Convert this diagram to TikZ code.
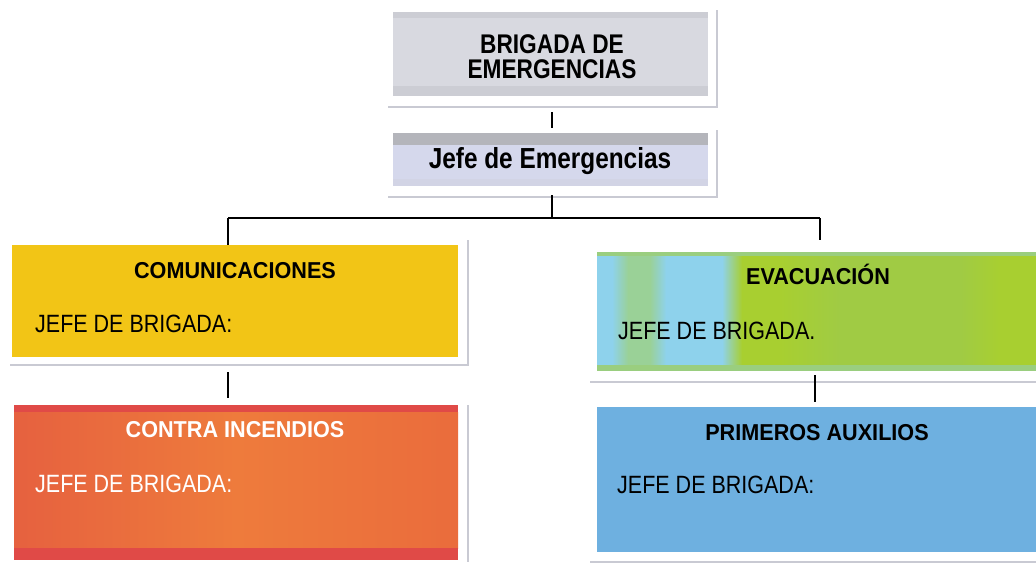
\documentclass[tikz,border=0pt]{standalone}
\usepackage{fontspec}
\setmainfont{Liberation Sans}
\newfontfamily\nrw{Liberation Sans}[FakeStretch=0.86]
\newfontfamily\nrwt{Liberation Sans}[FakeStretch=0.94]
\newfontfamily\nrwh{Liberation Sans}[FakeStretch=0.84]
\definecolor{greybox}{HTML}{D8D9E0}
\definecolor{greyband}{HTML}{C4C5CC}
\definecolor{lavbox}{HTML}{D5D8EC}
\definecolor{yelbox}{HTML}{F2C516}
\definecolor{redband}{HTML}{E04A47}
\definecolor{redL}{HTML}{E6613F}
\definecolor{redM}{HTML}{EE7B3C}
\definecolor{redR}{HTML}{EA6C3C}
\definecolor{evblue}{HTML}{8ED2EC}
\definecolor{evgreen}{HTML}{A8CF30}
\definecolor{evgreenD}{HTML}{A0CB44}
\definecolor{pablue}{HTML}{6EB0E0}
\definecolor{shadowc}{HTML}{C9CAD3}
\tikzset{
  boxnode/.style={draw=none,inner sep=0pt,outer sep=0pt,anchor=north west},
  conn/.style={line width=2.6pt,black},
  shadowline/.style={line width=2pt,shadowc},
  titletext/.style={inner sep=0pt,anchor=base,font=\nrwt\bfseries\fontsize{23}{25}\selectfont},
  jefetext/.style={inner sep=0pt,anchor=base west,font=\nrw\fontsize{25}{27}\selectfont},
}
\begin{document}
\begin{tikzpicture}[x=1pt,y=-1pt]
\useasboundingbox (0,0) rectangle (1036,565);
\fill[white] (0,0) rectangle (1036,565);

% shadow frames
\draw[shadowline] (388,107) -- (717,107) -- (717,10);
\draw[shadowline] (388,197) -- (717,197) -- (717,130);
\draw[shadowline] (10,365) -- (468,365) -- (468,240);
\draw[shadowline] (468,405) -- (468,562);
\draw[shadowline] (590,382) -- (1036,382);
\draw[shadowline] (590,562) -- (1036,562);

% top box
\node[boxnode,fill=greybox,minimum width=315pt,minimum height=84pt] (brig) at (393,12) {};
\fill[greyband!60!greybox] (393,12) rectangle (708,18);
\fill[greyband!60!greybox] (393,86) rectangle (708,96);
\node[inner sep=0pt,anchor=base,align=center,font=\nrwh\bfseries\fontsize{27}{25}\selectfont] (brigt) at (552,78) {BRIGADA DE\\EMERGENCIAS};

% jefe box
\node[boxnode,fill=lavbox,minimum width=315pt,minimum height=53pt] (jefe) at (393,133) {};
\fill[greyband!90!black!95] (393,133) rectangle (708,145);
\fill[lavbox!80!greyband] (393,179) rectangle (708,186);
\node[inner sep=0pt,anchor=base,font=\nrwh\bfseries\fontsize{29}{31}\selectfont] (jefet) at (550,168) {Jefe de Emergencias};

% comunicaciones
\node[boxnode,fill=yelbox,minimum width=446pt,minimum height=112pt] (com) at (12,245) {};
\node[titletext] (comt) at (235,278) {COMUNICACIONES};
\node[jefetext] (comj) at (35,332) {JEFE DE BRIGADA:};

% contra incendios
\node[boxnode,fill=redM,minimum width=444pt,minimum height=155pt] (ci) at (14,405) {};
\begin{scope}
\clip (14,405) rectangle (458,560);
\shade[left color=redL,right color=redM] (14,412) rectangle (236,548);
\shade[left color=redM,right color=redR] (236,412) rectangle (458,548);
\end{scope}
\fill[redband] (14,405) rectangle (458,412);
\fill[redband] (14,548) rectangle (458,560);
\node[titletext,white] (cit) at (235,437) {CONTRA INCENDIOS};
\node[jefetext,white] (cij) at (35,492) {JEFE DE BRIGADA:};

% evacuacion
\node[boxnode,fill=evblue,minimum width=440pt,minimum height=119pt] (eva) at (597,252) {};
\begin{scope}
\clip (597,252) rectangle (1037,371);
\shade[left color=evblue,right color=evblue!55!evgreen] (612,250) rectangle (628,373);
\fill[evblue!55!evgreen] (628,250) rectangle (650,373);
\shade[left color=evblue!55!evgreen,right color=evblue] (650,250) rectangle (666,373);
\shade[left color=evblue,right color=evgreen] (722,250) rectangle (742,373);
\fill[evgreen] (742,250) rectangle (1037,373);
\shade[left color=evgreen,right color=evgreenD] (780,250) rectangle (840,373);
\fill[evgreenD] (840,250) rectangle (960,373);
\shade[left color=evgreenD,right color=evgreen] (960,250) rectangle (1000,373);
\end{scope}
\fill[white] (597,371) rectangle (1037,377);
\fill[evblue!35!evgreenD] (597,252) rectangle (1037,256);
\fill[evblue!35!evgreenD] (597,365) rectangle (1037,371);
\node[titletext] (evat) at (818,284) {EVACUACIÓN};
\node[jefetext] (evaj) at (618,339) {JEFE DE BRIGADA.};

% primeros auxilios
\node[boxnode,fill=pablue,minimum width=440pt,minimum height=145pt] (pa) at (597,407) {};
\node[titletext] (pat) at (817,440) {PRIMEROS AUXILIOS};
\node[jefetext] (paj) at (617,493) {JEFE DE BRIGADA:};

% connectors
\coordinate (hub) at (552,218);
\coordinate (jl) at (228,218);
\coordinate (jr) at (820,218);
\draw[conn,shorten <=16pt,shorten >=5pt] (brig.south -| hub) -- (jefe.north -| hub);
\draw[conn,shorten <=9pt] (jefe.south -| hub) -- (hub);
\draw[conn] (jl) -- (jr);
\draw[conn] (jl) -- (jl |- com.north);
\draw[conn,shorten >=12pt] (jr) -- (jr |- eva.north);
\draw[conn,shorten <=15pt,shorten >=7pt] (com.south -| jl) -- (ci.north -| jl);
\coordinate (er) at (815,300);
\draw[conn,shorten <=4pt,shorten >=5pt] (eva.south -| er) -- (pa.north -| er);
\end{tikzpicture}
\end{document}
